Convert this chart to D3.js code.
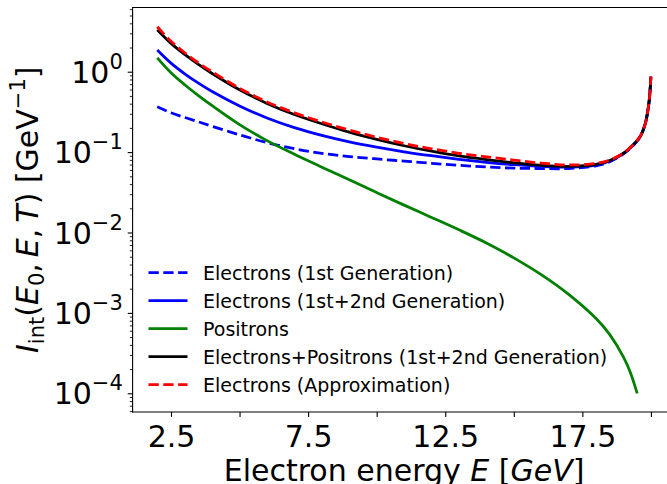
<!DOCTYPE html>
<html>
<head>
<meta charset="utf-8">
<script src="https://cdn.jsdelivr.net/npm/d3@7"></script>
<style>
  html, body { margin: 0; padding: 0; background: #fff; }
  svg { display: block; font-family: "DejaVu Sans", sans-serif; }
</style>
</head>
<body>
<svg id="chart" width="667" height="484"></svg>
<script>
// Electron energy grid [GeV]; the electron spectra end at E0 = 20 GeV
const energy = [2, 2.5, 3, 3.5, 4, 5, 6, 7, 8, 9, 10, 11, 12, 13, 14, 15, 16, 17, 18,
                18.5, 19, 19.3, 19.6, 19.8, 19.9, 19.95, 20];
// Positron spectrum stops a little below E0
const positronEnergy = [2, 2.5, 3, 3.5, 4, 5, 6, 7, 8, 9, 10, 11, 12, 13, 14, 15, 16, 17, 18,
                        18.5, 19, 19.25, 19.5];

// I_int(E0, E, T) [GeV^-1]
const electrons1st = [0.367, 0.309, 0.270, 0.238, 0.2094, 0.164, 0.1312, 0.1102, 0.0964, 0.0881,
                      0.0822, 0.0773, 0.0726, 0.0686, 0.0653, 0.0632, 0.0624, 0.0625, 0.0675,
                      0.076, 0.095, 0.116, 0.153, 0.23, 0.35, 0.48, 0.87];
const electrons12 = [1.862, 1.279, 0.943, 0.722, 0.568, 0.3754, 0.2658, 0.2016, 0.1613, 0.1341,
                     0.1152, 0.1010, 0.0901, 0.0814, 0.0747, 0.0697, 0.0663, 0.0651, 0.069,
                     0.0775, 0.096, 0.117, 0.154, 0.23, 0.35, 0.48, 0.87];
const positrons = [1.489, 0.973, 0.689, 0.505, 0.378, 0.220, 0.139, 0.0940, 0.0650, 0.0452,
                   0.0314, 0.0219, 0.0154, 0.01079, 0.00741, 0.00484, 0.00299, 0.00170, 0.000851,
                   0.000537, 0.000282, 0.000182, 0.0001];
const electronsPositrons = [3.32, 2.25, 1.64, 1.23, 0.95, 0.595, 0.403, 0.293, 0.225, 0.177,
                            0.144, 0.120, 0.1025, 0.0895, 0.0805, 0.0735, 0.0685, 0.0665, 0.0705,
                            0.0785, 0.097, 0.118, 0.155, 0.23, 0.35, 0.48, 0.87];
const electronsApprox = [3.62, 2.39, 1.72, 1.29, 0.998, 0.622, 0.421, 0.308, 0.237, 0.188,
                         0.153, 0.128, 0.110, 0.0967, 0.0873, 0.0794, 0.0730, 0.0692, 0.0723,
                         0.0795, 0.097, 0.118, 0.155, 0.23, 0.35, 0.48, 0.87];

const seriesLabels = ["Electrons (1st Generation)", "Electrons (1st+2nd Generation)", "Positrons",
                      "Electrons+Positrons (1st+2nd Generation)", "Electrons (Approximation)"];
const xTickValues = [2.5, 5, 7.5, 10, 12.5, 15, 17.5, 20];
const xTickLabels = ["2.5", "", "7.5", "", "12.5", "", "17.5", ""];
const yTickExponents = [0, -1, -2, -3, -4];

const series = [
  { label: seriesLabels[0], x: energy, y: electrons1st, color: "#0000ff", dash: "10.3,4.5" },
  { label: seriesLabels[1], x: energy, y: electrons12, color: "#0000ff", dash: null },
  { label: seriesLabels[2], x: positronEnergy, y: positrons, color: "#008000", dash: null },
  { label: seriesLabels[3], x: energy, y: electronsPositrons, color: "#000000", dash: null },
  { label: seriesLabels[4], x: energy, y: electronsApprox, color: "#ff0000", dash: "10.3,4.5" }
];

const FS = 30;      // tick and axis-title font size
const FS_SUB = 21;  // sub/superscript size

const svg = d3.select("#chart");
const plot = { left: 132.6, right: 675.6, top: 7.5, bottom: 412 };

const x = d3.scaleLinear().domain([1.1, 20.9]).range([plot.left, plot.right]);
const y = d3.scaleLog().domain([5.853e-5, 6.289]).range([plot.bottom, plot.top]);

svg.append("defs").append("clipPath").attr("id", "plotclip")
  .append("rect").attr("x", plot.left).attr("y", plot.top)
  .attr("width", plot.right - plot.left).attr("height", plot.bottom - plot.top);

// curves (centripetal Catmull-Rom through the sampled points)
const line = d3.line().x(d => x(d[0])).y(d => y(d[1])).curve(d3.curveCatmullRom.alpha(0.5));
const curves = svg.append("g").attr("clip-path", "url(#plotclip)");
series.forEach(s => {
  curves.append("path")
    .datum(s.x.map((e, i) => [e, s.y[i]]))
    .attr("d", line)
    .attr("fill", "none")
    .attr("stroke", s.color)
    .attr("stroke-width", 2.78)
    .attr("stroke-dasharray", s.dash)
    .attr("stroke-linecap", "butt")
    .attr("stroke-linejoin", "round");
});

// x axis
const xAxis = d3.axisBottom(x).tickValues(xTickValues)
  .tickFormat((d, i) => xTickLabels[i]).tickSize(4.9).tickPadding(0);
const gx = svg.append("g").attr("transform", `translate(0,${plot.bottom})`).call(xAxis);
gx.select(".domain").remove();
gx.selectAll(".tick line").attr("stroke", "#000").attr("stroke-width", 1.1);
gx.selectAll(".tick text").attr("fill", "#000").attr("font-size", FS)
  .attr("font-family", "DejaVu Sans").attr("y", 35).attr("dy", null);

// y axis: major ticks at decades, minor at 2..9 x decade
const [ylo, yhi] = y.domain();
const minor = [];
for (let k = -5; k <= 1; k++) {
  for (let m = 2; m <= 9; m++) {
    const v = m * Math.pow(10, k);
    if (v >= ylo && v <= yhi) minor.push(v);
  }
}
const gy = svg.append("g").attr("transform", `translate(${plot.left},0)`);
gy.call(d3.axisLeft(y).tickValues(minor).tickSize(2.8).tickFormat(""));
gy.select(".domain").remove();
gy.selectAll(".tick line").attr("stroke", "#000").attr("stroke-width", 0.85);
const gyMajor = svg.append("g").attr("transform", `translate(${plot.left},0)`);
gyMajor.call(d3.axisLeft(y).tickValues(yTickExponents.map(e => Math.pow(10, e)))
  .tickSize(4.9).tickFormat(""));
gyMajor.select(".domain").remove();
gyMajor.selectAll(".tick line").attr("stroke", "#000").attr("stroke-width", 1.1);

// decade labels 10^k
yTickExponents.forEach(e => {
  const t = svg.append("text")
    .attr("x", plot.left - 9.8)
    .attr("y", y(Math.pow(10, e)) + 11)
    .attr("text-anchor", "end")
    .attr("font-size", FS)
    .attr("fill", "#000");
  t.append("tspan").text("10");
  t.append("tspan").attr("font-size", FS_SUB).attr("dy", -14)
    .text(e === 0 ? "0" : "\u2212" + Math.abs(e));
});

// spines: left, top, bottom (right edge lies outside the figure)
const spine = svg.append("g").attr("stroke", "#000").attr("stroke-width", 1.1)
  .attr("fill", "none").attr("stroke-linecap", "square");
spine.append("line").attr("x1", plot.left).attr("x2", plot.left)
  .attr("y1", plot.top).attr("y2", plot.bottom);
spine.append("line").attr("x1", plot.left).attr("x2", plot.right)
  .attr("y1", plot.top).attr("y2", plot.top);
spine.append("line").attr("x1", plot.left).attr("x2", plot.right)
  .attr("y1", plot.bottom).attr("y2", plot.bottom);

// axis titles
const xl = svg.append("text")
  .attr("x", (plot.left + plot.right) / 2).attr("y", 481)
  .attr("text-anchor", "middle").attr("font-size", FS).attr("fill", "#000");
xl.append("tspan").text("Electron energy ");
xl.append("tspan").attr("font-style", "italic").text("E");
xl.append("tspan").text(" [");
xl.append("tspan").attr("font-style", "italic").text("GeV");
xl.append("tspan").text("]");

// I_int(E_0, E, T) [GeV^-1], with math-style thin spaces after commas
const yl = svg.append("text")
  .attr("transform", `translate(38,${(plot.top + plot.bottom) / 2}) rotate(-90)`)
  .attr("text-anchor", "middle").attr("font-size", FS).attr("fill", "#000");
yl.append("tspan").attr("font-style", "italic").text("I");
yl.append("tspan").attr("font-size", FS_SUB).attr("dy", 6).text("int");
yl.append("tspan").attr("dy", -6).text("(");
yl.append("tspan").attr("font-style", "italic").text("E");
yl.append("tspan").attr("font-size", FS_SUB).attr("dy", 6).text("0");
yl.append("tspan").attr("dy", -6).text(",\u2009");
yl.append("tspan").attr("font-style", "italic").text("E");
yl.append("tspan").text(",\u2009");
yl.append("tspan").attr("font-style", "italic").text("T");
yl.append("tspan").text(") [GeV");
yl.append("tspan").attr("font-size", FS_SUB).attr("dy", -13).text("\u22121");
yl.append("tspan").attr("dy", 13).text("]");

// legend
const legend = svg.append("g");
series.forEach((s, i) => {
  const cy = 272.7 + i * 28;
  legend.append("line")
    .attr("x1", 148.5).attr("x2", 187.5).attr("y1", cy).attr("y2", cy)
    .attr("stroke", s.color).attr("stroke-width", 2.78)
    .attr("stroke-dasharray", s.dash);
  legend.append("text")
    .attr("x", 203).attr("y", cy + 7)
    .attr("font-size", 19).attr("fill", "#000")
    .text(s.label);
});
</script>
</body>
</html>
